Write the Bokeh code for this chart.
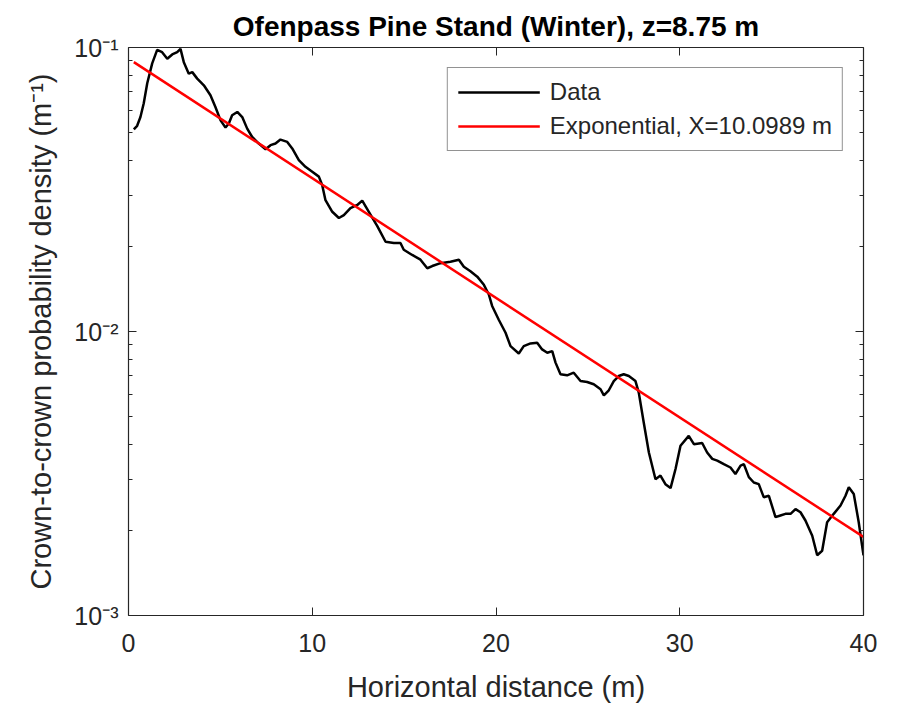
from bokeh.plotting import figure
from bokeh.models import LogAxis, LinearAxis, Legend, LegendItem, FixedTicker
from bokeh.embed import file_html
from bokeh.resources import INLINE

# Data
data_x = [0.29, 0.47, 0.65, 0.83, 1.02, 1.29, 1.56, 1.83, 2.11, 2.38, 2.65, 2.83, 3.01, 3.28, 3.47,
          3.74, 4.10, 4.46, 4.73, 5.01, 5.28, 5.46, 5.64, 5.92, 6.19, 6.46, 6.73, 7.09, 7.46, 7.73,
          8.00, 8.27, 8.64, 8.91, 9.27, 9.63, 10.00, 10.36, 10.54, 10.72, 11.09, 11.45, 11.72, 12.08,
          12.45, 12.72, 13.08, 13.54, 13.99, 14.44, 14.80, 14.98, 15.44, 15.89, 16.26, 16.53, 16.98,
          17.52, 17.98, 18.25, 18.61, 18.98, 19.34, 19.61, 19.79, 20.15, 20.52, 20.79, 21.24, 21.51,
          21.88, 22.24, 22.51, 22.79, 23.06, 23.24, 23.51, 23.87, 24.23, 24.60, 24.96, 25.32, 25.69,
          25.87, 26.14, 26.41, 26.68, 26.95, 27.23, 27.59, 27.77, 28.04, 28.32, 28.68, 28.95, 29.22,
          29.50, 29.77, 30.04, 30.49, 30.77, 31.22, 31.49, 31.77, 32.04, 32.40, 32.76, 33.03, 33.31,
          33.49, 33.76, 34.03, 34.30, 34.57, 34.85, 35.21, 35.48, 35.75, 36.03, 36.30, 36.57, 36.84,
          37.21, 37.48, 37.75, 38.02, 38.38, 38.75, 39.02, 39.20, 39.47, 39.74, 40.00]
data_y = [0.0515, 0.0530, 0.0569, 0.0636, 0.0748, 0.0879, 0.0981, 0.0963, 0.0913, 0.0945, 0.0963,
          0.0989, 0.0888, 0.0809, 0.0819, 0.0777, 0.0736, 0.0679, 0.0617, 0.0554, 0.0523, 0.0540,
          0.0577, 0.0593, 0.0569, 0.0518, 0.0484, 0.0459, 0.0438, 0.0453, 0.0459, 0.0474, 0.0465,
          0.0441, 0.0401, 0.0380, 0.0365, 0.0351, 0.0328, 0.0290, 0.0264, 0.0251, 0.0257, 0.0272,
          0.0279, 0.0289, 0.0264, 0.0235, 0.0207, 0.0205, 0.0205, 0.0194, 0.0186, 0.0179, 0.0167,
          0.0170, 0.0174, 0.0176, 0.0179, 0.0169, 0.0163, 0.0156, 0.0146, 0.0135, 0.0123, 0.0110,
          0.00990, 0.00888, 0.00837, 0.00888, 0.00908, 0.00913, 0.00865, 0.00842, 0.00853, 0.00777,
          0.00707, 0.00701, 0.00716, 0.00669, 0.00664, 0.00652, 0.00626, 0.00596, 0.00621, 0.00669,
          0.00697, 0.00707, 0.00697, 0.00669, 0.00609, 0.00478, 0.00375, 0.00302, 0.00311, 0.00290,
          0.00281, 0.00328, 0.00396, 0.00429, 0.00401, 0.00405, 0.00375, 0.00356, 0.00351, 0.00341,
          0.00332, 0.00315, 0.00337, 0.00341, 0.00307, 0.00294, 0.00290, 0.00261, 0.00264, 0.00222,
          0.00225, 0.00228, 0.00228, 0.00237, 0.00231, 0.00216, 0.00191, 0.00163, 0.00169, 0.00213,
          0.00228, 0.00244, 0.00264, 0.00283, 0.00268, 0.00213, 0.00163]

fit_x = [0.29, 40.0]
fit_y = [0.0888, 0.00189]

x_ticks = [0, 10, 20, 30, 40]
y_ticks = [0.001, 0.01, 0.1]
y_minor_ticks = [0.002, 0.003, 0.004, 0.005, 0.006, 0.007, 0.008, 0.009,
                 0.02, 0.03, 0.04, 0.05, 0.06, 0.07, 0.08, 0.09]
y_tick_labels = {0.001: "10\u207b\u00b3", 0.01: "10\u207b\u00b2", 0.1: "10\u207b\u00b9"}

FONT = "Liberation Sans"
AXC = "#262626"

p = figure(width=902, height=705, y_axis_type="log", x_range=(0, 40), y_range=(1e-3, 1e-1),
           output_backend="svg", toolbar_location=None,
           min_border_left=128, min_border_right=39, min_border_top=47, min_border_bottom=88)

p.title.text = "Ofenpass Pine Stand (Winter), z=8.75 m"
p.title.align = "center"
p.title.text_font = FONT
p.title.text_font_size = "28px"
p.title.text_font_style = "bold"
p.title.text_color = "black"
p.title.standoff = 12

p.xgrid.visible = False
p.ygrid.visible = False
p.outline_line_color = None

l_data = p.line(data_x, data_y, line_color="black", line_width=2.5)
l_fit = p.line(fit_x, fit_y, line_color="#ff0000", line_width=2.5)

def style(ax, labels=True):
    ax.axis_line_color = AXC
    ax.axis_line_width = 1.2
    ax.major_tick_line_color = AXC
    ax.minor_tick_line_color = AXC
    ax.major_tick_in = 8
    ax.major_tick_out = 0
    ax.minor_tick_in = 4
    ax.minor_tick_out = 0
    ax.major_label_text_font = FONT
    ax.major_label_text_font_size = "25px"
    ax.major_label_text_color = AXC if labels else None
    ax.axis_label_text_font = FONT
    ax.axis_label_text_font_size = "29px"
    ax.axis_label_text_font_style = "normal"
    ax.axis_label_text_color = AXC

xa = p.xaxis[0]
xa.ticker = FixedTicker(ticks=x_ticks)
xa.axis_label = "Horizontal distance (m)"
style(xa)
xa.minor_tick_in = 0
xa.major_label_standoff = 18
xa.axis_label_standoff = 16

ya = p.yaxis[0]
ya.ticker = FixedTicker(ticks=y_ticks, minor_ticks=y_minor_ticks)
ya.major_label_overrides = y_tick_labels
ya.axis_label = "Crown-to-crown probability density (m\u207b\u00b9)"
style(ya)
ya.major_label_standoff = 10
ya.axis_label_standoff = 14

ra = LogAxis(ticker=FixedTicker(ticks=y_ticks, minor_ticks=y_minor_ticks))
style(ra, labels=False)
ra.major_label_text_font_size = "0px"
p.add_layout(ra, "right")

ta = LinearAxis(ticker=FixedTicker(ticks=x_ticks))
style(ta, labels=False)
ta.major_label_text_font_size = "0px"
ta.minor_tick_in = 0
p.add_layout(ta, "above")

legend = Legend(items=[LegendItem(label="Data", renderers=[l_data]),
                       LegendItem(label="Exponential, X=10.0989 m", renderers=[l_fit])],
                location="top_right")
legend.label_text_font = FONT
legend.label_text_font_size = "24px"
legend.label_text_color = AXC
legend.glyph_width = 82
legend.glyph_height = 28
legend.spacing = 6
legend.padding = 10
legend.margin = 20
legend.label_standoff = 10
legend.border_line_color = AXC
legend.border_line_width = 1
legend.background_fill_alpha = 1
p.add_layout(legend, "center")

open("out.html", "w").write(file_html(p, INLINE))
